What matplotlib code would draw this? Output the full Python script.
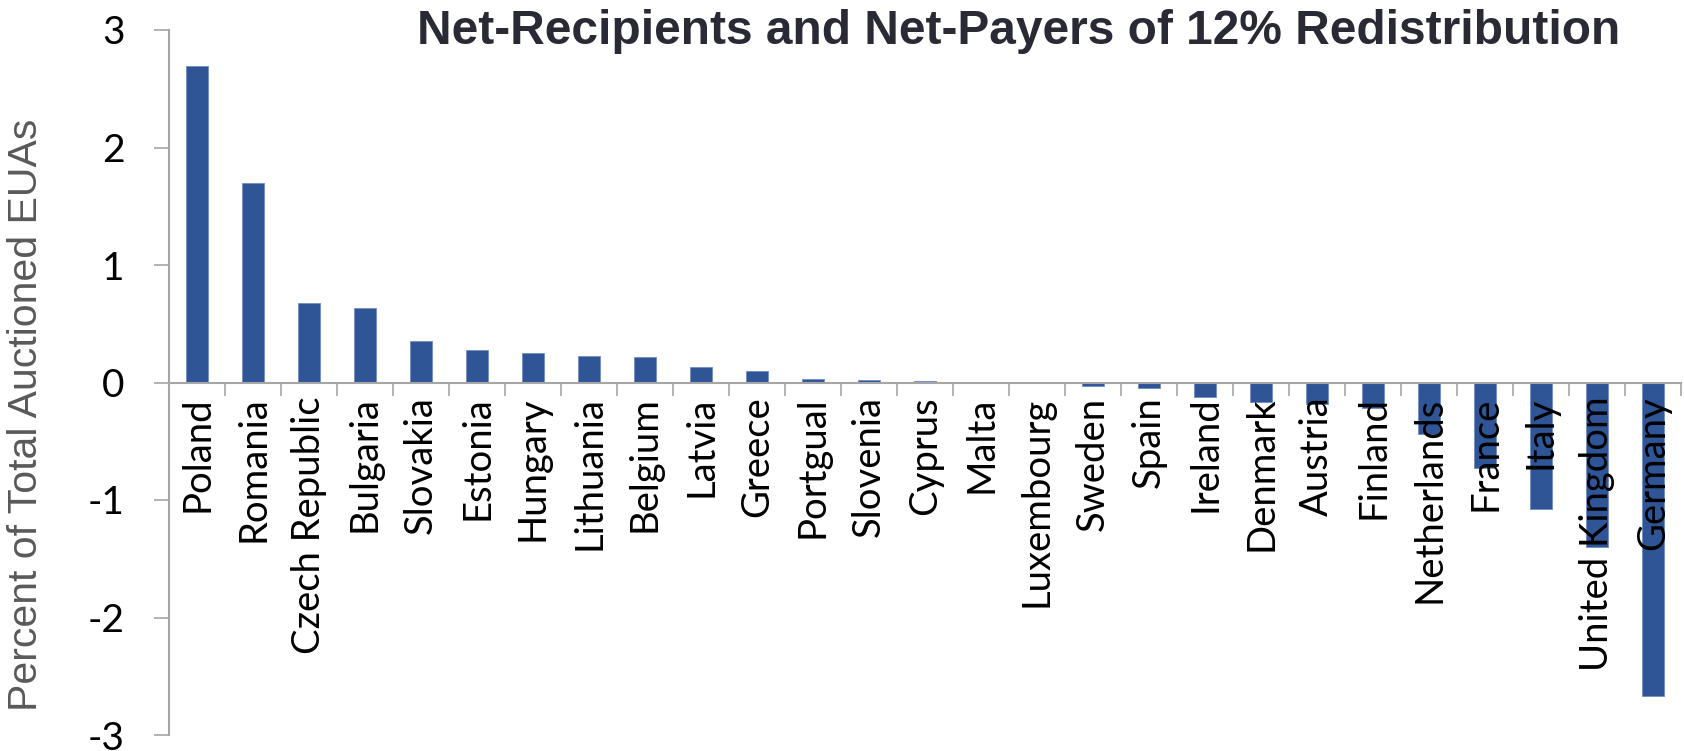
import matplotlib
matplotlib.use("Agg")
import matplotlib.pyplot as plt
import numpy as np

# Net position per member state (percent of total auctioned EUAs)
countries = ["Poland", "Romania", "Czech Republic", "Bulgaria", "Slovakia",
             "Estonia", "Hungary", "Lithuania", "Belgium", "Latvia", "Greece",
             "Portgual", "Slovenia", "Cyprus", "Malta", "Luxembourg", "Sweden",
             "Spain", "Ireland", "Denmark", "Austria", "Finland", "Netherlands",
             "France", "Italy", "United Kingdom", "Germany"]
net_share = [2.69, 1.70, 0.68, 0.63, 0.35, 0.28, 0.255, 0.225, 0.215, 0.135,
             0.095, 0.03, 0.02, 0.01, 0.005, 0.0, -0.03, -0.045, -0.125,
             -0.165, -0.185, -0.22, -0.44, -0.73, -1.08, -1.40, -2.67]
y_ticks = [-3, -2, -1, 0, 1, 2, 3]

title = "Net-Recipients and Net-Payers of 12% Redistribution"
y_label = "Percent of Total Auctioned EUAs"

W, H = 1684, 751
fig = plt.figure(figsize=(W / 100, H / 100), dpi=100)
ax = fig.add_axes([169 / W, 1 - 735 / H, (1681 - 169) / W, (735 - 30) / H])

x = np.arange(len(countries))
# bars stay below the axis so the country names are drawn over them
ax.bar(x, net_share, width=0.4, color="#2F5597", edgecolor="#6E8DC4", linewidth=0.6, zorder=1)

ax.set_xlim(-0.5, len(countries) - 0.5)
ax.set_ylim(-3, 3)

for side in ["top", "right"]:
    ax.spines[side].set_visible(False)
ax.spines["bottom"].set_position(("data", 0))
for side in ["left", "bottom"]:
    ax.spines[side].set_color("#A6A6A6")
    ax.spines[side].set_linewidth(1.5)

ax.set_yticks(y_ticks)
ax.set_yticklabels([str(v) for v in y_ticks], fontfamily="Lato", fontsize=28)
ax.tick_params(axis="y", direction="out", length=11, width=1.2, color="#A6A6A6", pad=21)

ax.set_xticks(x)
ax.set_xticklabels(countries, rotation=90, fontfamily="Lato", fontsize=27.5, va="top")
ax.set_xticks(np.arange(len(countries) + 1) - 0.5, minor=True)
ax.tick_params(axis="x", which="major", length=0, pad=10)
ax.tick_params(axis="x", which="minor", direction="out", length=9.5, width=1.2, color="#A6A6A6")

fig.text(26 / W, 1 - 415 / H, y_label, rotation=90, ha="center", va="center",
         fontfamily="Liberation Sans", fontsize=29.5, color="#595959")
fig.text(1620 / W, 1 - 31 / H, title, ha="right", va="center",
         fontfamily="Liberation Sans", fontweight="bold", fontsize=34.5, color="#2A2A35")

fig.savefig("out.png", dpi=100)
